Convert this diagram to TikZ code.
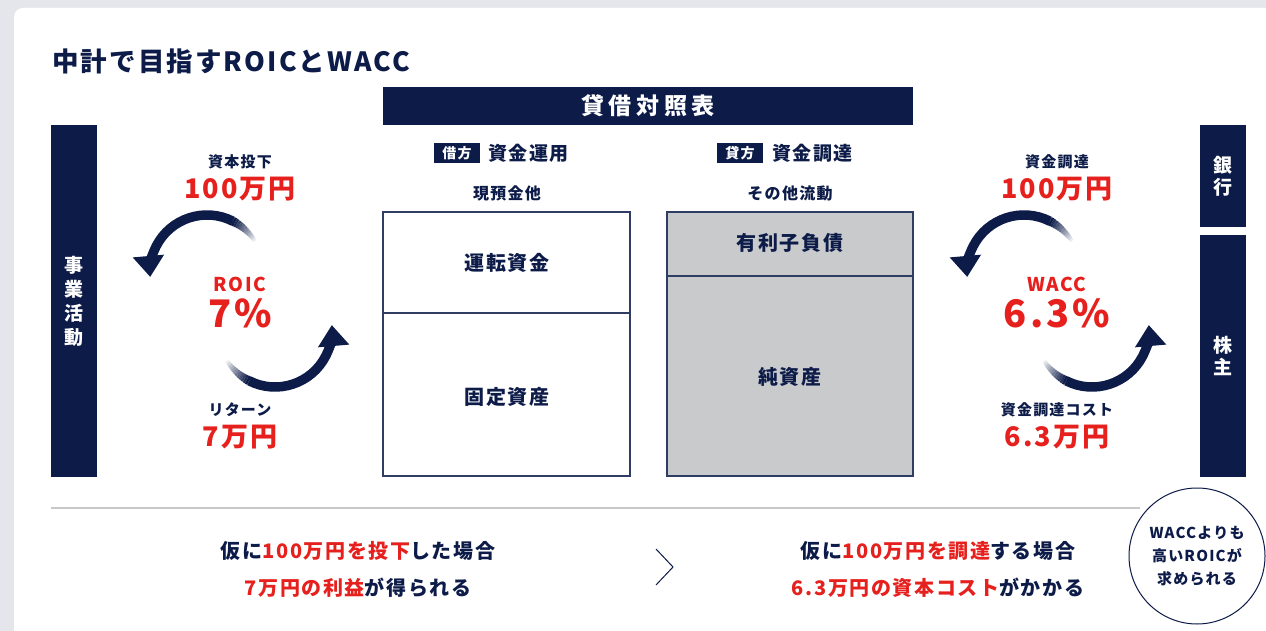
\documentclass[tikz,border=0pt]{standalone}
\usepackage{fontspec}
\setmainfont{Noto Sans CJK JP}[LetterSpace=8]
\newfontfamily\widefam{Noto Sans CJK JP}[LetterSpace=20]
\usetikzlibrary{arrows.meta,calc}
\definecolor{navy}{HTML}{0C1B48}
\definecolor{redc}{HTML}{E5201D}
\definecolor{bgg}{HTML}{E4E6EB}
\definecolor{boxg}{HTML}{C9CACB}
\definecolor{divg}{HTML}{C8C8C8}
\newcommand{\fsz}[1]{\fontsize{#1}{#1}\selectfont\bfseries}
\newcommand{\cyclearc}[3]{%
  \foreach \k [evaluate=\k as \op using (\k+1)/12, evaluate=\k as \lw using 4+0.45*\k,
               evaluate=\k as \aa using #3-2.5*\k, evaluate=\k as \ab using #3-2.5*(\k+1)] in {0,...,11}{
    \draw[navy, line width=\lw pt, draw opacity=\op]
      ($(#1,#2)+(\aa:57)$) arc[start angle=\aa, end angle=\ab, radius=57];
  }
  \draw[navy, line width=9.5pt, -{Triangle[width=30pt,length=21pt]}]
    ($(#1,#2)+({#3-30}:57)$) arc[start angle={#3-30}, end angle={#3-152}, radius=57];
}
\begin{document}
\begin{tikzpicture}[x=1pt,y=-1pt,
  bar/.style={fill=navy, text=white, minimum width=46pt, inner sep=0pt, align=center,
              font=\fontsize{19}{24}\selectfont\bfseries},
  tag/.style={fill=navy, text=white, minimum width=46pt, minimum height=20pt, inner sep=0pt, font=\fsz{14}},
  head/.style={text=navy, font=\fsz{19}, inner sep=0pt},
  sub/.style={text=navy, font=\fsz{16}, inner sep=0pt},
  cell/.style={text=navy, font=\fsz{20}, inner sep=0pt},
  small/.style={text=navy, font=\fsz{15}, inner sep=0pt},
  amount/.style={text=redc, font=\fsz{27}, inner sep=0pt},
  ratio/.style={text=redc, font=\fsz{38}, inner sep=0pt},
  rname/.style={text=redc, font=\fsz{19}, inner sep=0pt},
  bline/.style={font=\fsz{20}, text=navy, inner sep=0pt},
  boxline/.style={draw=navy!85, line width=1.3pt}
]
\useasboundingbox (0,0) rectangle (1266,631);
\fill[bgg] (0,0) rectangle (1266,631);
\fill[white, rounded corners=9pt] (14,8) rectangle (1300,680);

% title
\node[anchor=west, text=navy, font=\fsz{26.5}, inner sep=0pt] (title) at (52,61) {中計で目指すROICとWACC};

% header
\node[fill=navy, text=white, minimum width=530pt, minimum height=38pt, inner sep=0pt,
      font=\widefam\fsz{23}] (bs) at (648,106) {貸借対照表};

% side bars
\node[bar, minimum height=352pt] (biz) at (74,301) {事\\業\\活\\動};
\node[bar, minimum height=102pt, font=\fontsize{19}{22}\selectfont\bfseries] (bank) at (1223,176) {銀\\行};
\node[bar, minimum height=242pt, font=\fontsize{19}{22}\selectfont\bfseries] (holder) at (1223,356) {株\\主};

% debit / credit headings
\node[tag] (dr) at (457,153) {借方};
\node[head, anchor=west] (drh) at (488,153) {資金運用};
\node[tag] (cr) at (740,153) {貸方};
\node[head, anchor=west] (crh) at (772,153) {資金調達};
\node[sub] (cash) at (507,193) {現預金他};
\node[sub] (othc) at (790,193) {その他流動};

% balance sheet boxes
\draw[boxline, fill=white] (383,212) rectangle (630,476);
\draw[boxline] (383,313) -- (630,313);
\draw[boxline, fill=boxg] (667,212) rectangle (913,476);
\draw[boxline] (667,276) -- (913,276);
\node[cell] (wc) at (507,263) {運転資金};
\node[cell] (fa) at (507,397) {固定資産};
\node[cell] (debt) at (790,243) {有利子負債};
\node[cell] (eq) at (790,377) {純資産};

% left cycle
\node[small] (inv) at (240,162) {資本投下};
\node[amount] (inva) at (240,189) {100万円};
\node[rname] (roic) at (240,284) {ROIC};
\node[ratio] (roicv) at (240,313) {7\%};
\node[small] (ret) at (240,410) {リターン};
\node[amount] (reta) at (240,437) {7万円};
\cyclearc{207}{272}{-33}
\cyclearc{275}{330}{147}

% right cycle
\node[small] (raise) at (1057,162) {資金調達};
\node[amount] (raisea) at (1057,189) {100万円};
\node[rname] (wacc) at (1057,284) {WACC};
\node[ratio] (waccv) at (1057,313) {6.3\%};
\node[small] (cost) at (1057,410) {資金調達コスト};
\node[amount] (costa) at (1057,437) {6.3万円};
\cyclearc{1024}{272}{-33}
\cyclearc{1092}{330}{147}

% bottom
\draw[divg, line width=1.5pt] (51,508) -- (1140,508);
\node[circle, draw=navy, line width=1pt, fill=white, minimum size=136pt, inner sep=0pt,
      align=center, text=navy, font=\fontsize{15}{23}\selectfont\bfseries] (concl) at (1197,556)
      {WACCよりも\\高いROICが\\求められる};
\node[bline] (l1) at (358,551) {仮に{\color{redc}100万円を投下}した場合};
\node[bline] (l2) at (358,588) {{\color{redc}7万円の利益}が得られる};
\node[bline] (r1) at (938,551) {仮に{\color{redc}100万円を調達}する場合};
\node[bline] (r2) at (938,588) {{\color{redc}6.3万円の資本コスト}がかかる};
\coordinate (c1) at (656,549);
\coordinate (c2) at (673,567);
\coordinate (c3) at (656,585);
\draw[navy, line width=1pt] (c1) -- (c2) -- (c3);
\end{tikzpicture}
\end{document}
